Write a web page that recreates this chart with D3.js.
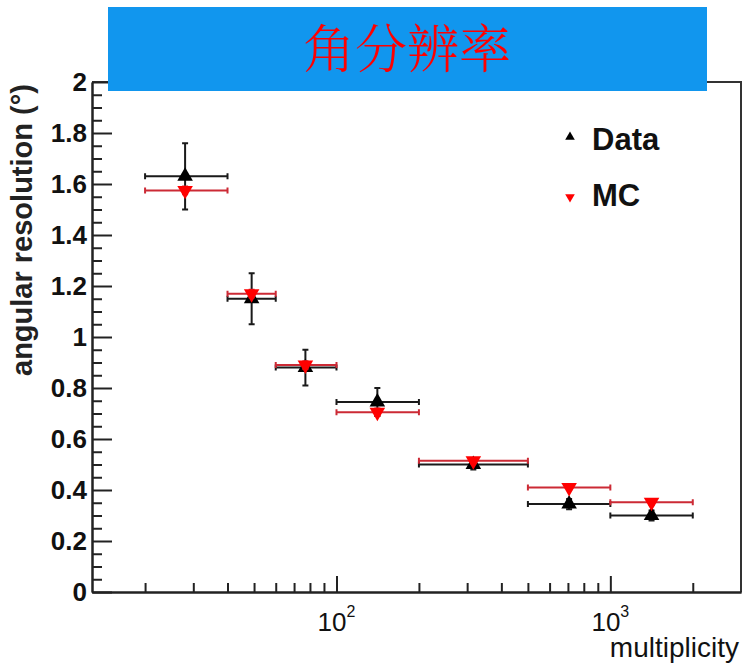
<!DOCTYPE html>
<html>
<head>
<meta charset="utf-8">
<script src="https://cdn.jsdelivr.net/npm/d3@7"></script>
<style>
  body { margin: 0; background: #fff; }
  svg { display: block; }
</style>
</head>
<body>
<svg id="grafico"></svg>
<script>
// bins in multiplicity
const binLow = [20, 40, 60, 100, 200, 500, 1000];
const binHigh = [40, 60, 100, 200, 500, 1000, 2000];
const binCenter = [28, 49, 77, 141, 316, 707, 1414];

// angular resolution (deg)
const dataVal = [1.63, 1.15, 0.88, 0.745, 0.50, 0.345, 0.30];
const dataErr = [0.13, 0.10, 0.07, 0.055, 0.02, 0.02, 0.02];
const mcVal = [1.575, 1.17, 0.89, 0.705, 0.515, 0.41, 0.352];
const mcErr = [0.015, 0.015, 0.015, 0.015, 0.01, 0.01, 0.01];

const yLabels = [0, 0.2, 0.4, 0.6, 0.8, 1, 1.2, 1.4, 1.6, 1.8, 2];
const xMajor = [100, 1000];
const xMinor = [20, 30, 40, 50, 60, 70, 80, 90, 200, 300, 400, 500, 600, 700, 800, 900, 2000];

const largura = 742, altura = 665;
const svg = d3.select('#grafico').attr('width', largura).attr('height', altura);

const x = d3.scaleLog().domain([12.8, 3000]).range([92, 741]);
const y = d3.scaleLinear().domain([0, 2]).range([592, 82]);

const fonte = '"Liberation Sans", Arial, sans-serif';

// frame (top and right)
svg.append('path')
  .attr('d', `M${x.range()[0]},${y(2)}H${x.range()[1]}V${y(0)}`)
  .attr('fill', 'none').attr('stroke', '#333').attr('stroke-width', 2);

// y axis, ticks pointing inside
const yMinor = d3.range(0, 2.001, 0.05).filter(v => Math.abs(v * 5 - Math.round(v * 5)) > 1e-6);
const eixoY = svg.append('g').attr('transform', `translate(${x.range()[0]},0)`);
eixoY.append('g').call(d3.axisRight(y).tickValues(yLabels).tickSize(20).tickSizeOuter(0).tickFormat(''));
eixoY.append('g').call(d3.axisRight(y).tickValues(yMinor).tickSize(10).tickSizeOuter(0).tickFormat(''));
eixoY.append('g').call(d3.axisLeft(y).tickValues(yLabels).tickSize(0).tickPadding(5)
  .tickFormat(d => String(+d.toFixed(1))))
  .call(g => g.select('.domain').remove())
  .selectAll('text')
  .attr('fill', '#111')
  .style('font', `bold 26px ${fonte}`);

// x axis, ticks pointing inside
const eixoX = svg.append('g').attr('transform', `translate(0,${y(0)})`);
eixoX.append('g').call(d3.axisTop(x).tickValues(xMajor).tickSize(16).tickSizeOuter(0).tickFormat(''));
eixoX.append('g').call(d3.axisTop(x).tickValues(xMinor).tickSize(9).tickSizeOuter(0).tickFormat(''));

svg.selectAll('.domain, .tick line').attr('stroke', '#222').attr('stroke-width', 2);

const rotX = svg.selectAll('.rotuloX')
  .data(xMajor)
  .enter()
  .append('text')
  .classed('rotuloX', true)
  .attr('x', d => x(d))
  .attr('y', 631)
  .attr('text-anchor', 'middle')
  .attr('fill', '#111')
  .style('font-family', fonte);
rotX.append('tspan').style('font-size', '26px').text('10');
rotX.append('tspan').style('font-size', '16px').attr('dy', -14).text(d => Math.round(Math.log10(d)));

// axis titles
svg.append('text')
  .attr('x', 739).attr('y', 657)
  .attr('text-anchor', 'end')
  .attr('fill', '#111')
  .style('font', `28px ${fonte}`)
  .text('multiplicity');

svg.append('text')
  .attr('transform', 'translate(32, 230) rotate(-90)')
  .attr('text-anchor', 'middle')
  .attr('fill', '#222')
  .style('font', `bold 29px ${fonte}`)
  .text('angular resolution (°)');

// points with error bars
function desenhaSerie(vals, errs, corBarra, corMarca, tipo, rotacao) {
  const pts = vals.map((v, i) => ({ v, e: errs[i], lo: binLow[i], hi: binHigh[i], c: binCenter[i] }));
  const g = svg.append('g');
  const cap = 3;
  pts.forEach(p => {
    const cx = x(p.c), cy = y(p.v);
    const path = d3.path();
    path.moveTo(x(p.lo), cy); path.lineTo(x(p.hi), cy);
    path.moveTo(x(p.lo), cy - cap); path.lineTo(x(p.lo), cy + cap);
    path.moveTo(x(p.hi), cy - cap); path.lineTo(x(p.hi), cy + cap);
    path.moveTo(cx, y(p.v + p.e)); path.lineTo(cx, y(p.v - p.e));
    path.moveTo(cx - cap, y(p.v + p.e)); path.lineTo(cx + cap, y(p.v + p.e));
    path.moveTo(cx - cap, y(p.v - p.e)); path.lineTo(cx + cap, y(p.v - p.e));
    g.append('path').attr('d', path.toString())
      .attr('fill', 'none').attr('stroke', corBarra).attr('stroke-width', 2);
  });
  g.selectAll('.marca')
    .data(pts)
    .enter()
    .append('path')
    .classed('marca', true)
    .attr('d', d3.symbol().type(tipo).size(105))
    .attr('transform', d => `translate(${x(d.c)},${y(d.v)}) rotate(${rotacao})`)
    .attr('fill', corMarca);
}

desenhaSerie(dataVal, dataErr, '#1a1a1a', '#000', d3.symbolTriangle, 0);
desenhaSerie(mcVal, mcErr, '#cc2a35', '#ff0000', d3.symbolTriangle, 180);

// legend
const legenda = [
  { nome: 'Data', cor: '#000', rot: 0, y: 150, my: 137 },
  { nome: 'MC', cor: '#ff0000', rot: 180, y: 206, my: 197 }
];
legenda.forEach(l => {
  svg.append('path')
    .attr('d', d3.symbol().type(d3.symbolTriangle).size(40))
    .attr('transform', `translate(570,${l.my}) rotate(${l.rot})`)
    .attr('fill', l.cor);
  svg.append('text')
    .attr('x', 592).attr('y', l.y)
    .attr('fill', '#111')
    .style('font', `bold 31px ${fonte}`)
    .text(l.nome);
});

// title box
svg.append('rect')
  .attr('x', 108).attr('y', 7)
  .attr('width', 599).attr('height', 84)
  .attr('fill', '#1196ee');
svg.append('text')
  .attr('x', 407).attr('y', 68)
  .attr('text-anchor', 'middle')
  .attr('fill', '#ff0000')
  .style('font-family', '"Noto Serif CJK SC", "Noto Sans CJK SC", serif')
  .style('font-weight', 300)
  .style('font-size', '52px')
  .text('角分辨率');
</script>
</body>
</html>
